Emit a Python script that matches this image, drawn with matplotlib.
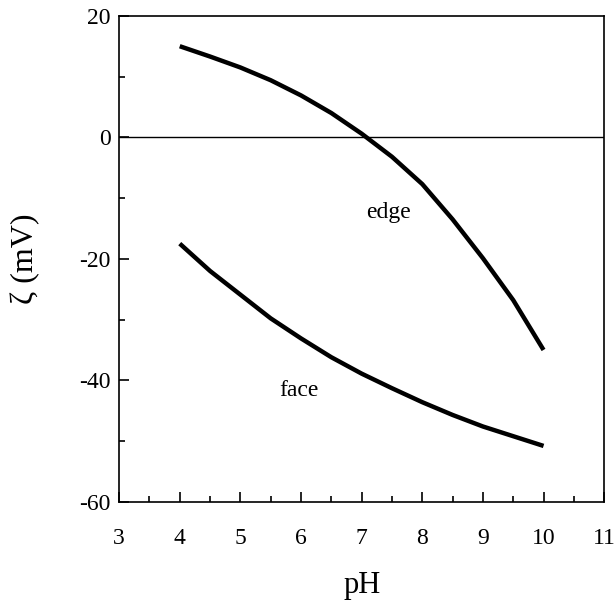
import matplotlib
matplotlib.use("Agg")
import matplotlib.pyplot as plt
from matplotlib.ticker import MultipleLocator

# zeta potential of kaolinite-type particle, edge vs face
ph = [4, 4.5, 5, 5.5, 6, 6.5, 7, 7.5, 8, 8.5, 9, 9.5, 10]
edge = [15, 13.3, 11.5, 9.4, 6.9, 4.0, 0.6, -3.2, -7.7, -13.5, -19.9, -26.8, -35]
face = [-17.5, -22.0, -25.9, -29.8, -33.1, -36.2, -38.9, -41.3, -43.6, -45.7, -47.6, -49.2, -50.8]

plt.rcParams['font.family'] = ['Liberation Serif', 'DejaVu Serif']

fig = plt.figure(figsize=(6.14, 6.09), dpi=100)
ax = fig.add_axes([0.194, 0.176, 0.79, 0.798])

ax.axhline(0, color='black', lw=1.0)
ax.plot(ph, edge, color='black', lw=3.2, solid_capstyle='butt', solid_joinstyle='round')
ax.plot(ph, face, color='black', lw=3.2, solid_capstyle='butt', solid_joinstyle='round')

ax.text(7.44, -12.4, "edge", fontsize=17, ha='center', va='center')
ax.text(5.97, -41.6, "face", fontsize=17, ha='center', va='center')

ax.set_xlim(3, 11)
ax.set_ylim(-60, 20)
ax.xaxis.set_major_locator(MultipleLocator(1))
ax.xaxis.set_minor_locator(MultipleLocator(0.5))
ax.yaxis.set_major_locator(MultipleLocator(20))
ax.yaxis.set_minor_locator(MultipleLocator(10))
ax.tick_params(which='both', direction='in', top=False, right=False, width=1.2, labelsize=17)
ax.tick_params(which='major', length=7)
ax.tick_params(which='minor', length=4)
ax.tick_params(axis='x', pad=19)
ax.tick_params(axis='y', pad=6)
ax.set_yticklabels([f"{int(v)}" for v in ax.get_yticks()])
for s in ax.spines.values():
    s.set_linewidth(1.2)

ax.set_xlabel("pH", fontsize=22, labelpad=16)
ax.set_ylabel("ζ (mV)", fontsize=23, labelpad=28)

fig.savefig("out.png", dpi=100)
